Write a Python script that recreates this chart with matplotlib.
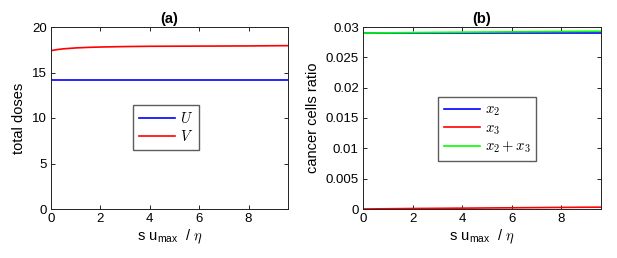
import numpy as np
import matplotlib
matplotlib.use('Agg')
import matplotlib.pyplot as plt

plt.rcParams['font.family'] = ['Liberation Sans', 'DejaVu Sans']
plt.rcParams['mathtext.fontset'] = 'cm'

# data
s = [0, 0.25, 0.5, 1, 1.5, 2, 3, 4, 5, 6, 7, 8, 9, 9.6]
U = [14.2] * len(s)
V = [17.4, 17.52, 17.6, 17.7, 17.76, 17.8, 17.85, 17.88, 17.89, 17.9, 17.91, 17.92, 17.94, 17.95]
x2 = [0.0290] * len(s)
x3 = [0.0, 0.00001, 0.00002, 0.00004, 0.00006, 0.00008, 0.00011, 0.00014, 0.00017, 0.0002, 0.00023, 0.00026, 0.00029, 0.0003]
x23 = [a + b for a, b in zip(x2, x3)]

fig = plt.figure(figsize=(6.17, 2.58), dpi=100)
ax1 = fig.add_axes([51/617, 49/258, 237/617, 182/258])
ax2 = fig.add_axes([363/617, 49/258, 238/617, 182/258])

leg_kw = dict(fancybox=False, edgecolor='#333333', fontsize=10.5, handlelength=2.5,
              handletextpad=0.3, borderpad=0.4, labelspacing=0.2, borderaxespad=0)

ax1.plot(s, U, color='#0000ff', lw=1.2, label='$U$')
ax1.plot(s, V, color='#ff0000', lw=1.2, label='$V$')
ax1.set_xlim(0, 9.6)
ax1.set_ylim(0, 20)
ax1.set_yticks([0, 5, 10, 15, 20])
ax1.set_ylabel('total doses', fontsize=10.5)
ax1.set_title('(a)', fontsize=10.5, fontweight='bold', pad=3)
ax1.legend(loc='upper left', bbox_to_anchor=(0.346, 0.571), **leg_kw)

ax2.plot(s, x2, color='#0000ff', lw=1.2, label='$x_2$')
ax2.plot(s, x3, color='#ff0000', lw=1.2, label='$x_3$')
ax2.plot(s, x23, color='#00ff00', lw=1.2, label='$x_2 + x_3$')
ax2.set_xlim(0, 9.6)
ax2.set_ylim(0, 0.03)
ax2.set_yticks([0, 0.005, 0.01, 0.015, 0.02, 0.025, 0.03])
ax2.set_yticklabels(['0', '0.005', '0.01', '0.015', '0.02', '0.025', '0.03'])
ax2.set_ylabel('cancer cells ratio', fontsize=10.5)
ax2.set_title('(b)', fontsize=10.5, fontweight='bold', pad=3)
ax2.legend(loc='upper left', bbox_to_anchor=(0.315, 0.615), **leg_kw)

for ax in (ax1, ax2):
    ax.set_xticks([0, 2, 4, 6, 8])
    ax.set_xlabel(r's u$_{\mathregular{max}}$  / $\eta$', fontsize=10.5, labelpad=2)
    ax.tick_params(direction='in', top=True, right=True, labelsize=9.5, length=3, width=0.6, pad=3)
    for sp in ax.spines.values():
        sp.set_linewidth(0.7)
        sp.set_color('#222222')

fig.savefig('out.png', dpi=100)
